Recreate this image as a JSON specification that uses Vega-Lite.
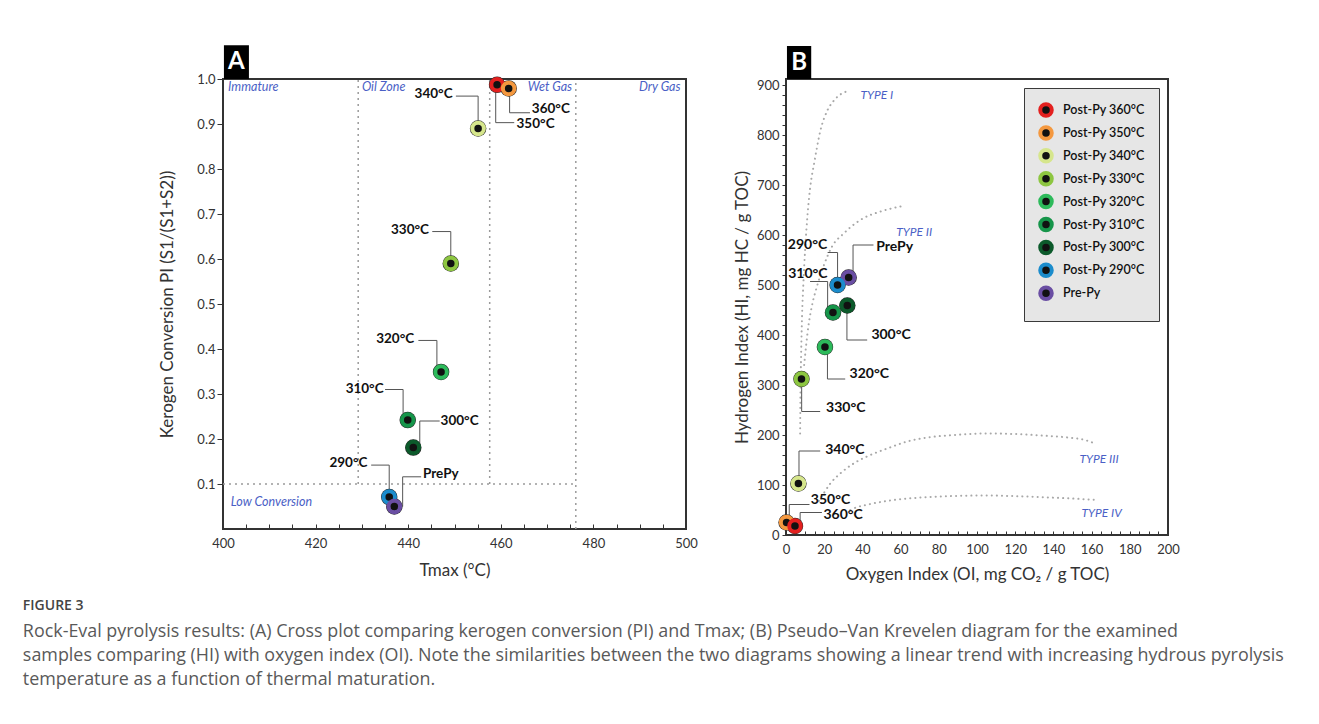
{
  "$schema": "https://vega.github.io/schema/vega-lite/v6.json",
  "background": "white",
  "padding": {"left": 22, "top": 44, "right": 10, "bottom": 10},
  "config": {
    "view": {"stroke": "#333", "strokeWidth": 2},
    "font": "Lato",
    "axis": {
      "labelFont": "Lato", "labelFontSize": 13, "labelColor": "#333",
      "titleFont": "Lato", "titleFontSize": 17, "titleFontWeight": "normal", "titleColor": "#333",
      "domain": false, "grid": false, "tickColor": "#333", "labelOverlap": false, "labelFlush": false
    }
  },
  "title": {
    "text": "FIGURE 3",
    "subtitle": [
      "Rock-Eval pyrolysis results: (A) Cross plot comparing kerogen conversion (PI) and Tmax; (B) Pseudo–Van Krevelen diagram for the examined",
      "samples comparing (HI) with oxygen index (OI). Note the similarities between the two diagrams showing a linear trend with increasing hydrous pyrolysis",
      "temperature as a function of thermal maturation."
    ],
    "orient": "bottom", "anchor": "start", "frame": "bounds", "dx": -135, "offset": 16,
    "font": "Open Sans", "fontSize": 14, "fontWeight": 600, "color": "#444",
    "subtitleFont": "Open Sans", "subtitleFontSize": 17.9, "subtitleColor": "#595959",
    "subtitleLineHeight": 24, "subtitlePadding": 10
  },
  "datasets": {
    "zonesA": [
      {"x1": 429.2, "y1": 0.1, "x2": 429.2, "y2": 1},
      {"x1": 457.6, "y1": 0.1, "x2": 457.6, "y2": 1},
      {"x1": 476.2, "y1": 0, "x2": 476.2, "y2": 1},
      {"x1": 400, "y1": 0.1, "x2": 476.2, "y2": 0.1}
    ],
    "zoneTextA": [
      {"zone": "Immature", "x": 401.1, "y": 0.982, "anchor": "start"},
      {"zone": "Oil Zone", "x": 430.0, "y": 0.982, "anchor": "start"},
      {"zone": "Wet Gas", "x": 475.4, "y": 0.982, "anchor": "end"},
      {"zone": "Dry Gas", "x": 498.8, "y": 0.982, "anchor": "end"},
      {"zone": "Low Conversion", "x": 401.7, "y": 0.061, "anchor": "start"}
    ],
    "ptsA": [
      {"sample": "Post-Py 360°C", "Tmax": 459.2, "PI": 0.987},
      {"sample": "Post-Py 350°C", "Tmax": 461.7, "PI": 0.979},
      {"sample": "Post-Py 340°C", "Tmax": 455.1, "PI": 0.89},
      {"sample": "Post-Py 330°C", "Tmax": 449.2, "PI": 0.59},
      {"sample": "Post-Py 320°C", "Tmax": 447.1, "PI": 0.349},
      {"sample": "Post-Py 310°C", "Tmax": 439.9, "PI": 0.242},
      {"sample": "Post-Py 300°C", "Tmax": 441.1, "PI": 0.181},
      {"sample": "Post-Py 290°C", "Tmax": 435.9, "PI": 0.071},
      {"sample": "Pre-Py", "Tmax": 437.0, "PI": 0.05}
    ],
    "lblA": [
      {"label": "350°C", "PI": 0.987, "vx": 458.9, "ly": 0.903, "lx": 462.9, "tx": 463.4, "ty": 0.9, "anchor": "start"},
      {"label": "360°C", "PI": 0.979, "vx": 461.9, "ly": 0.925, "lx": 466.3, "tx": 466.7, "ty": 0.934, "anchor": "start"},
      {"label": "340°C", "PI": 0.89, "vx": 455.1, "ly": 0.962, "lx": 450.3, "tx": 449.6, "ty": 0.966, "anchor": "end"},
      {"label": "330°C", "PI": 0.59, "vx": 449.2, "ly": 0.661, "lx": 445.2, "tx": 444.5, "ty": 0.664, "anchor": "end"},
      {"label": "320°C", "PI": 0.349, "vx": 446.2, "ly": 0.419, "lx": 442.2, "tx": 441.3, "ty": 0.423, "anchor": "end"},
      {"label": "310°C", "PI": 0.242, "vx": 438.9, "ly": 0.31, "lx": 435.0, "tx": 434.7, "ty": 0.312, "anchor": "end"},
      {"label": "300°C", "PI": 0.181, "vx": 442.5, "ly": 0.24, "lx": 446.8, "tx": 447.0, "ty": 0.24, "anchor": "start"},
      {"label": "290°C", "PI": 0.071, "vx": 435.9, "ly": 0.142, "lx": 432.0, "tx": 431.2, "ty": 0.147, "anchor": "end"},
      {"label": "PrePy", "PI": 0.05, "vx": 438.8, "ly": 0.116, "lx": 442.8, "tx": 443.2, "ty": 0.122, "anchor": "start"}
    ],
    "ptsB": [
      {"sample": "Post-Py 350°C", "OI": 0.3, "HI": 25},
      {"sample": "Post-Py 360°C", "OI": 4.7, "HI": 18},
      {"sample": "Post-Py 340°C", "OI": 6.5, "HI": 103},
      {"sample": "Post-Py 330°C", "OI": 8.1, "HI": 312},
      {"sample": "Post-Py 320°C", "OI": 20.4, "HI": 376},
      {"sample": "Post-Py 310°C", "OI": 24.6, "HI": 445},
      {"sample": "Post-Py 300°C", "OI": 32.1, "HI": 459},
      {"sample": "Pre-Py", "OI": 32.8, "HI": 515},
      {"sample": "Post-Py 290°C", "OI": 27.0, "HI": 500}
    ],
    "lblB": [
      {"label": "290°C", "HI": 500, "vx": 27.0, "ly": 565, "lx": 21.8, "tx": 21.6, "ty": 581, "anchor": "end"},
      {"label": "PrePy", "HI": 515, "vx": 35.1, "ly": 580, "lx": 45.8, "tx": 47.2, "ty": 576, "anchor": "start"},
      {"label": "310°C", "HI": 445, "vx": 21.8, "ly": 507, "lx": 12.6, "tx": 21.8, "ty": 522, "anchor": "end"},
      {"label": "300°C", "HI": 459, "vx": 31.9, "ly": 390, "lx": 42.5, "tx": 44.7, "ty": 401, "anchor": "start"},
      {"label": "320°C", "HI": 376, "vx": 21.7, "ly": 312, "lx": 31.0, "tx": 33.3, "ty": 322, "anchor": "start"},
      {"label": "330°C", "HI": 312, "vx": 8.2, "ly": 247, "lx": 17.9, "tx": 21.0, "ty": 255, "anchor": "start"},
      {"label": "340°C", "HI": 103, "vx": 6.8, "ly": 168, "lx": 17.9, "tx": 20.5, "ty": 171, "anchor": "start"},
      {"label": "350°C", "HI": 25, "vx": 1.7, "ly": 61, "lx": 12.3, "tx": 13.0, "ty": 70, "anchor": "start"},
      {"label": "360°C", "HI": 18, "vx": 7.4, "ly": 45, "lx": 18.8, "tx": 19.6, "ty": 40, "anchor": "start"}
    ],
    "curvesB": [
      {"curve": "I", "seq": 1, "OI": 7.4, "HI": 203},
      {"curve": "I", "seq": 2, "OI": 7.6, "HI": 290},
      {"curve": "I", "seq": 3, "OI": 7.9, "HI": 357},
      {"curve": "I", "seq": 4, "OI": 8.4, "HI": 437},
      {"curve": "I", "seq": 5, "OI": 9.1, "HI": 503},
      {"curve": "I", "seq": 6, "OI": 10.0, "HI": 570},
      {"curve": "I", "seq": 7, "OI": 11.2, "HI": 637},
      {"curve": "I", "seq": 8, "OI": 12.6, "HI": 693},
      {"curve": "I", "seq": 9, "OI": 14.9, "HI": 747},
      {"curve": "I", "seq": 10, "OI": 16.1, "HI": 773},
      {"curve": "I", "seq": 11, "OI": 17.9, "HI": 807},
      {"curve": "I", "seq": 12, "OI": 21.4, "HI": 847},
      {"curve": "I", "seq": 13, "OI": 24.9, "HI": 868},
      {"curve": "I", "seq": 14, "OI": 28.4, "HI": 881},
      {"curve": "I", "seq": 15, "OI": 32.8, "HI": 888},
      {"curve": "II", "seq": 1, "OI": 9.5, "HI": 340},
      {"curve": "II", "seq": 2, "OI": 11.7, "HI": 417},
      {"curve": "II", "seq": 3, "OI": 13.5, "HI": 457},
      {"curve": "II", "seq": 4, "OI": 16.2, "HI": 497},
      {"curve": "II", "seq": 5, "OI": 19.6, "HI": 537},
      {"curve": "II", "seq": 6, "OI": 24.1, "HI": 577},
      {"curve": "II", "seq": 7, "OI": 30.2, "HI": 603},
      {"curve": "II", "seq": 8, "OI": 38.9, "HI": 630},
      {"curve": "II", "seq": 9, "OI": 49.5, "HI": 647},
      {"curve": "II", "seq": 10, "OI": 60.0, "HI": 657},
      {"curve": "III", "seq": 1, "OI": 17.2, "HI": 68},
      {"curve": "III", "seq": 2, "OI": 20.0, "HI": 85},
      {"curve": "III", "seq": 3, "OI": 23.2, "HI": 103},
      {"curve": "III", "seq": 4, "OI": 28.4, "HI": 123},
      {"curve": "III", "seq": 5, "OI": 35.4, "HI": 143},
      {"curve": "III", "seq": 6, "OI": 44.2, "HI": 160},
      {"curve": "III", "seq": 7, "OI": 53.0, "HI": 173},
      {"curve": "III", "seq": 8, "OI": 63.5, "HI": 187},
      {"curve": "III", "seq": 9, "OI": 74.1, "HI": 195},
      {"curve": "III", "seq": 10, "OI": 88.1, "HI": 200},
      {"curve": "III", "seq": 11, "OI": 105.6, "HI": 203},
      {"curve": "III", "seq": 12, "OI": 119.6, "HI": 202},
      {"curve": "III", "seq": 13, "OI": 133.7, "HI": 199},
      {"curve": "III", "seq": 14, "OI": 147.7, "HI": 195},
      {"curve": "III", "seq": 15, "OI": 156.5, "HI": 190},
      {"curve": "III", "seq": 16, "OI": 161.7, "HI": 183},
      {"curve": "IV", "seq": 1, "OI": 33.7, "HI": 50},
      {"curve": "IV", "seq": 2, "OI": 35.4, "HI": 53},
      {"curve": "IV", "seq": 3, "OI": 44.2, "HI": 62},
      {"curve": "IV", "seq": 4, "OI": 56.5, "HI": 70},
      {"curve": "IV", "seq": 5, "OI": 70.5, "HI": 75},
      {"curve": "IV", "seq": 6, "OI": 88.1, "HI": 78},
      {"curve": "IV", "seq": 7, "OI": 105.6, "HI": 79},
      {"curve": "IV", "seq": 8, "OI": 117.9, "HI": 78},
      {"curve": "IV", "seq": 9, "OI": 131.9, "HI": 76},
      {"curve": "IV", "seq": 10, "OI": 149.5, "HI": 73},
      {"curve": "IV", "seq": 11, "OI": 163.5, "HI": 70}
    ],
    "typeTextB": [
      {"kerogen": "TYPE I", "OI": 39.0, "HI": 880},
      {"kerogen": "TYPE II", "OI": 57.7, "HI": 606},
      {"kerogen": "TYPE III", "OI": 153.7, "HI": 152},
      {"kerogen": "TYPE IV", "OI": 154.7, "HI": 45}
    ],
    "tagA": [{"letter": "A", "x0": 400.2, "x1": 405.6, "y0": 1.0, "y1": 1.075, "cx": 402.9, "cy": 1.0375}],
    "tagB": [{"letter": "B", "x0": 0.5, "x1": 13.2, "y0": 912, "y1": 978, "cx": 6.85, "cy": 945}]
  },
  "hconcat": [
    {
      "width": 463,
      "height": 450,
      "layer": [
        {
          "data": {"name": "zonesA"},
          "mark": {"type": "rule", "stroke": "#9a9a9a", "strokeWidth": 1.5, "strokeDash": [2, 4]},
          "encoding": {
            "x": {"field": "x1", "type": "quantitative", "title": "Tmax (°C)",
              "scale": {"domain": [400, 500], "nice": false, "zero": false},
              "axis": {"values": [400,405,410,415,420,425,430,435,440,445,450,455,460,465,470,475,480,485,490,495,500],
                "tickCount": 200, "format": "d",
                "labelExpr": "datum.value % 20 === 0 ? datum.label : ''",
                "labelOverlap": false, "labelFlush": false,
                "tickSize": -5, "labelPadding": 13, "titlePadding": 12}},
            "y": {"field": "y1", "type": "quantitative", "title": "Kerogen Conversion PI (S1/(S1+S2))",
              "scale": {"domain": [0, 1], "nice": false},
              "axis": {"values": [0.1,0.2,0.3,0.4,0.5,0.6,0.7,0.8,0.9,1.0], "format": ".1f",
                "tickCount": 200,
                "labelOverlap": false, "labelFlush": false,
                "tickSize": 6, "labelPadding": 2, "titlePadding": 20}},
            "x2": {"field": "x2"},
            "y2": {"field": "y2"}
          }
        },
        {
          "data": {"name": "zoneTextA"},
          "transform": [{"filter": "datum.anchor === 'start'"}],
          "mark": {"type": "text", "align": "left", "baseline": "middle", "font": "Lato", "fontStyle": "italic", "fontSize": 12.5, "color": "#4b5fc6"},
          "encoding": {"x": {"field": "x", "type": "quantitative"}, "y": {"field": "y", "type": "quantitative"}, "text": {"field": "zone"}}
        },
        {
          "data": {"name": "zoneTextA"},
          "transform": [{"filter": "datum.anchor === 'end'"}],
          "mark": {"type": "text", "align": "right", "baseline": "middle", "font": "Lato", "fontStyle": "italic", "fontSize": 12.5, "color": "#4b5fc6"},
          "encoding": {"x": {"field": "x", "type": "quantitative"}, "y": {"field": "y", "type": "quantitative"}, "text": {"field": "zone"}}
        },
        {
          "data": {"name": "lblA"},
          "mark": {"type": "rule", "stroke": "#555", "strokeWidth": 1},
          "encoding": {"x": {"field": "vx", "type": "quantitative"}, "y": {"field": "PI", "type": "quantitative"}, "y2": {"field": "ly"}}
        },
        {
          "data": {"name": "lblA"},
          "mark": {"type": "rule", "stroke": "#555", "strokeWidth": 1},
          "encoding": {"x": {"field": "vx", "type": "quantitative"}, "x2": {"field": "lx"}, "y": {"field": "ly", "type": "quantitative"}}
        },
        {
          "data": {"name": "lblA"},
          "transform": [{"filter": "datum.anchor === 'start'"}],
          "mark": {"type": "text", "align": "left", "baseline": "middle", "font": "Lato", "fontWeight": "bold", "fontSize": 13.5, "color": "#111"},
          "encoding": {"x": {"field": "tx", "type": "quantitative"}, "y": {"field": "ty", "type": "quantitative"}, "text": {"field": "label"}}
        },
        {
          "data": {"name": "lblA"},
          "transform": [{"filter": "datum.anchor === 'end'"}],
          "mark": {"type": "text", "align": "right", "baseline": "middle", "font": "Lato", "fontWeight": "bold", "fontSize": 13.5, "color": "#111"},
          "encoding": {"x": {"field": "tx", "type": "quantitative"}, "y": {"field": "ty", "type": "quantitative"}, "text": {"field": "label"}}
        },
        {
          "data": {"name": "ptsA"},
          "mark": {"type": "point", "shape": "circle", "filled": true, "fill": "#2b2b2b", "size": 272, "opacity": 1, "strokeWidth": 0},
          "encoding": {"x": {"field": "Tmax", "type": "quantitative"}, "y": {"field": "PI", "type": "quantitative"}}
        },
        {
          "data": {"name": "ptsA"},
          "mark": {"type": "point", "shape": "circle", "filled": false, "fill": "#111", "fillOpacity": 1, "strokeWidth": 4, "size": 133, "opacity": 1},
          "encoding": {
            "x": {"field": "Tmax", "type": "quantitative"},
            "y": {"field": "PI", "type": "quantitative"},
            "stroke": {"field": "sample", "type": "nominal", "legend": null,
              "scale": {"domain": ["Post-Py 360°C","Post-Py 350°C","Post-Py 340°C","Post-Py 330°C","Post-Py 320°C","Post-Py 310°C","Post-Py 300°C","Post-Py 290°C","Pre-Py"],
                "range": ["#e3201f","#f4983f","#d6e68c","#8dc641","#2dba5b","#16954a","#0c5a2b","#1b8ccc","#6a4ea3"]}}
          }
        },
        {
          "data": {"name": "tagA"},
          "mark": {"type": "rect", "fill": "#000"},
          "encoding": {"x": {"field": "x0", "type": "quantitative"}, "x2": {"field": "x1"}, "y": {"field": "y0", "type": "quantitative"}, "y2": {"field": "y1"}}
        },
        {
          "data": {"name": "tagA"},
          "mark": {"type": "text", "align": "center", "baseline": "middle", "font": "Lato", "fontWeight": "bold", "fontSize": 24, "color": "#fff"},
          "encoding": {"x": {"field": "cx", "type": "quantitative"}, "y": {"field": "cy", "type": "quantitative"}, "text": {"field": "letter"}}
        }
      ]
    },
    {
      "width": 382,
      "height": 456,
      "layer": [
        {
          "data": {"name": "curvesB"},
          "mark": {"type": "line", "interpolate": "monotone", "stroke": "#a8a8a8", "strokeWidth": 2, "strokeCap": "round", "strokeDash": [0.1, 5]},
          "encoding": {
            "x": {"field": "OI", "type": "quantitative", "title": "Oxygen Index (OI, mg CO₂ / g TOC)",
              "scale": {"domain": [0, 200], "nice": false},
              "axis": {"values": [0,5,10,15,20,25,30,35,40,45,50,55,60,65,70,75,80,85,90,95,100,105,110,115,120,125,130,135,140,145,150,155,160,165,170,175,180,185,190,195,200],
                "tickCount": 200, "format": "d",
                "labelExpr": "datum.value % 20 === 0 ? datum.label : ''",
                "labelOverlap": false, "labelFlush": false,
                "tickSize": -4, "labelPadding": 12, "titlePadding": 10}},
            "y": {"field": "HI", "type": "quantitative", "title": "Hydrogen Index (HI, mg HC / g TOC)",
              "scale": {"domain": [0, 912], "nice": false},
              "axis": {"values": [0,20,40,60,80,100,120,140,160,180,200,220,240,260,280,300,320,340,360,380,400,420,440,460,480,500,520,540,560,580,600,620,640,660,680,700,720,740,760,780,800,820,840,860,880,900],
                "tickCount": 200, "format": "d",
                "labelExpr": "datum.value % 100 === 0 ? datum.label : ''",
                "labelOverlap": false, "labelFlush": false,
                "tickSize": 4, "labelPadding": 3, "titlePadding": 5}},
            "detail": {"field": "curve"},
            "order": {"field": "seq"}
          }
        },
        {
          "data": {"name": "typeTextB"},
          "mark": {"type": "text", "align": "left", "baseline": "middle", "font": "Lato", "fontStyle": "italic", "fontSize": 12, "color": "#4b5fc6"},
          "encoding": {"x": {"field": "OI", "type": "quantitative"}, "y": {"field": "HI", "type": "quantitative"}, "text": {"field": "kerogen"}}
        },
        {
          "data": {"name": "lblB"},
          "mark": {"type": "rule", "stroke": "#555", "strokeWidth": 1},
          "encoding": {"x": {"field": "vx", "type": "quantitative"}, "y": {"field": "HI", "type": "quantitative"}, "y2": {"field": "ly"}}
        },
        {
          "data": {"name": "lblB"},
          "mark": {"type": "rule", "stroke": "#555", "strokeWidth": 1},
          "encoding": {"x": {"field": "vx", "type": "quantitative"}, "x2": {"field": "lx"}, "y": {"field": "ly", "type": "quantitative"}}
        },
        {
          "data": {"name": "lblB"},
          "transform": [{"filter": "datum.anchor === 'start'"}],
          "mark": {"type": "text", "align": "left", "baseline": "middle", "font": "Lato", "fontWeight": "bold", "fontSize": 14, "color": "#111"},
          "encoding": {"x": {"field": "tx", "type": "quantitative"}, "y": {"field": "ty", "type": "quantitative"}, "text": {"field": "label"}}
        },
        {
          "data": {"name": "lblB"},
          "transform": [{"filter": "datum.anchor === 'end'"}],
          "mark": {"type": "text", "align": "right", "baseline": "middle", "font": "Lato", "fontWeight": "bold", "fontSize": 14, "color": "#111"},
          "encoding": {"x": {"field": "tx", "type": "quantitative"}, "y": {"field": "ty", "type": "quantitative"}, "text": {"field": "label"}}
        },
        {
          "data": {"name": "ptsB"},
          "mark": {"type": "point", "shape": "circle", "filled": true, "fill": "#2b2b2b", "size": 272, "opacity": 1, "strokeWidth": 0},
          "encoding": {"x": {"field": "OI", "type": "quantitative"}, "y": {"field": "HI", "type": "quantitative"}}
        },
        {
          "data": {"name": "ptsB"},
          "mark": {"type": "point", "shape": "circle", "filled": false, "fill": "#111", "fillOpacity": 1, "strokeWidth": 4, "size": 133, "opacity": 1},
          "encoding": {
            "x": {"field": "OI", "type": "quantitative"},
            "y": {"field": "HI", "type": "quantitative"},
            "stroke": {"field": "sample", "type": "nominal",
              "scale": {"domain": ["Post-Py 360°C","Post-Py 350°C","Post-Py 340°C","Post-Py 330°C","Post-Py 320°C","Post-Py 310°C","Post-Py 300°C","Post-Py 290°C","Pre-Py"],
                "range": ["#e3201f","#f4983f","#d6e68c","#8dc641","#2dba5b","#16954a","#0c5a2b","#1b8ccc","#6a4ea3"]},
              "legend": {"title": null, "orient": "top-right", "offset": 9, "fillColor": "#e6e6e6", "strokeColor": "#3a3a3a",
                "padding": 14, "rowPadding": -5.1, "symbolType": "circle", "symbolSize": 133, "symbolStrokeWidth": 4,
                "symbolFillColor": "#111", "symbolOpacity": 1, "labelFont": "Lato", "labelFontSize": 12.5, "labelFontWeight": 600,
                "labelColor": "#111", "labelOffset": 9}}
          }
        },
        {
          "data": {"name": "tagB"},
          "mark": {"type": "rect", "fill": "#000"},
          "encoding": {"x": {"field": "x0", "type": "quantitative"}, "x2": {"field": "x1"}, "y": {"field": "y0", "type": "quantitative"}, "y2": {"field": "y1"}}
        },
        {
          "data": {"name": "tagB"},
          "mark": {"type": "text", "align": "center", "baseline": "middle", "font": "Lato", "fontWeight": "bold", "fontSize": 24, "color": "#fff"},
          "encoding": {"x": {"field": "cx", "type": "quantitative"}, "y": {"field": "cy", "type": "quantitative"}, "text": {"field": "letter"}}
        }
      ]
    }
  ],
  "spacing": 100,
  "bounds": "flush",
  "resolve": {"scale": {"stroke": "independent"}, "legend": {"stroke": "independent"}}
}
